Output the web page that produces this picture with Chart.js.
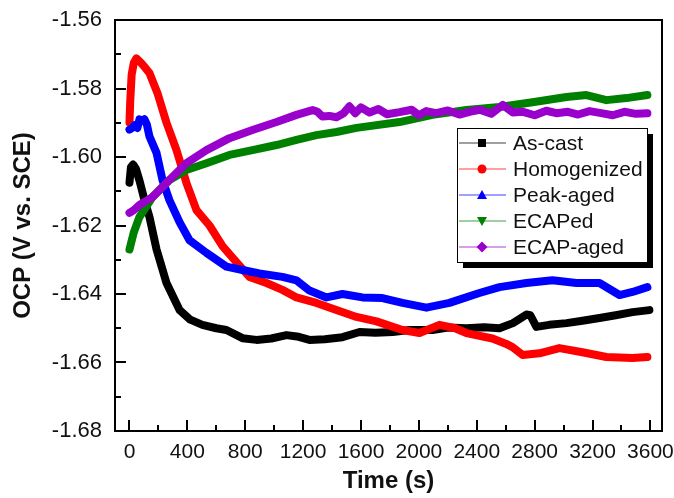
<!DOCTYPE html>
<html>
<head>
<meta charset="utf-8">
<script src="https://cdn.jsdelivr.net/npm/chart.js@4/dist/chart.umd.min.js"></script>
<style>
  body { margin: 0; background: #fff; }
  #wrap { width: 674px; height: 498px; }
</style>
</head>
<body>
<div id="wrap"><canvas id="ocpChart" width="674" height="498"></canvas></div>
<script>
// Valores (tiempo en s, OCP en V vs. SCE)
const seriesNames = ["As-cast", "Homogenized", "Peak-aged", "ECAPed", "ECAP-aged"];
const seriesColors = ["#000000", "#ff0000", "#0000ff", "#008000", "#9900cc"];
const xTicks = [0, 400, 800, 1200, 1600, 2000, 2400, 2800, 3200, 3600];
const yTicks = [-1.68, -1.66, -1.64, -1.62, -1.60, -1.58, -1.56];

const asCastTime = [0, 10, 25, 45, 70, 100, 138, 187, 256, 346, 420, 504, 600, 670, 781, 878, 980, 1085, 1170, 1244, 1350, 1472, 1590, 1700, 1818, 1935, 2094, 2200, 2329, 2450, 2557, 2650, 2743, 2770, 2812, 2900, 3020, 3130, 3248, 3360, 3476, 3593];
const asCastOcp = [-1.6075, -1.603, -1.6022, -1.6035, -1.607, -1.612, -1.6175, -1.627, -1.6368, -1.6447, -1.6475, -1.649, -1.650, -1.6505, -1.6529, -1.6534, -1.653, -1.652, -1.6525, -1.6534, -1.6532, -1.6526, -1.6511, -1.6513, -1.6511, -1.6505, -1.6505, -1.6498, -1.650, -1.6497, -1.650, -1.6485, -1.646, -1.6462, -1.6496, -1.649, -1.6485, -1.6478, -1.647, -1.6462, -1.6453, -1.6447];

const homogTime = [0, 5, 15, 30, 48, 80, 110, 138, 193, 256, 325, 394, 463, 553, 643, 739, 829, 947, 1057, 1154, 1292, 1430, 1569, 1707, 1887, 2004, 2142, 2250, 2329, 2508, 2600, 2647, 2716, 2833, 2971, 3130, 3296, 3476, 3579];
const homogOcp = [-1.590, -1.584, -1.576, -1.5725, -1.5712, -1.5725, -1.574, -1.5755, -1.5813, -1.590, -1.598, -1.6076, -1.6155, -1.620, -1.626, -1.6307, -1.635, -1.6368, -1.6388, -1.641, -1.6426, -1.6447, -1.6467, -1.648, -1.6505, -1.6514, -1.649, -1.650, -1.6514, -1.653, -1.6545, -1.6555, -1.6578, -1.6573, -1.6558, -1.657, -1.6584, -1.6587, -1.6584];

const peakTime = [0, 20, 35, 55, 69, 90, 104, 120, 138, 187, 228, 276, 346, 415, 532, 670, 781, 898, 1057, 1154, 1244, 1361, 1472, 1610, 1748, 1887, 2052, 2211, 2418, 2557, 2743, 2923, 3089, 3248, 3386, 3476, 3579];
const peakOcp = [-1.592, -1.5915, -1.5907, -1.5915, -1.589, -1.5895, -1.589, -1.5905, -1.594, -1.5988, -1.6067, -1.6126, -1.619, -1.6243, -1.628, -1.632, -1.633, -1.634, -1.635, -1.636, -1.639, -1.641, -1.640, -1.641, -1.6412, -1.6426, -1.644, -1.6426, -1.6397, -1.638, -1.6368, -1.636, -1.6368, -1.6368, -1.6403, -1.6394, -1.638];

const ecapTime = [0, 30, 69, 159, 276, 394, 532, 691, 850, 1016, 1154, 1292, 1430, 1569, 1866, 2094, 2329, 2557, 2785, 3020, 3158, 3296, 3434, 3579];
const ecapOcp = [-1.627, -1.622, -1.6175, -1.6117, -1.6067, -1.6038, -1.6018, -1.5994, -1.598, -1.5965, -1.595, -1.5936, -1.5927, -1.5915, -1.5898, -1.5877, -1.5863, -1.5854, -1.584, -1.5825, -1.5819, -1.5834, -1.5828, -1.5819];

const ecapAgedTime = [0, 30, 69, 159, 276, 394, 532, 691, 850, 1016, 1154, 1265, 1300, 1334, 1380, 1430, 1480, 1520, 1560, 1600, 1659, 1720, 1780, 1866, 1950, 2000, 2050, 2120, 2200, 2280, 2350, 2420, 2500, 2580, 2650, 2720, 2800, 2880, 2950, 3030, 3100, 3180, 3260, 3340, 3420, 3500, 3579];
const ecapAgedOcp = [-1.6163, -1.6155, -1.614, -1.6117, -1.6067, -1.6018, -1.598, -1.5945, -1.5921, -1.5898, -1.5877, -1.5863, -1.5868, -1.5882, -1.5880, -1.5884, -1.5872, -1.5852, -1.5872, -1.5855, -1.587, -1.5860, -1.5875, -1.5869, -1.5862, -1.5878, -1.5866, -1.5872, -1.5864, -1.5876, -1.5868, -1.5862, -1.5874, -1.5848, -1.587, -1.5868, -1.5878, -1.5865, -1.5872, -1.5868, -1.5876, -1.5866, -1.5872, -1.5878, -1.5868, -1.5874, -1.5872];

const seriesTimes = [asCastTime, homogTime, peakTime, ecapTime, ecapAgedTime];
const seriesValues = [asCastOcp, homogOcp, peakOcp, ecapOcp, ecapAgedOcp];
const markerStyles = ["square", "circle", "triangle", "triangleDown", "diamond"];

const FONT = "'Liberation Sans', Arial, sans-serif";

// dibuja el símbolo de la leyenda
function drawMarker(ctx, style, x, y, r) {
    ctx.beginPath();
    if (style === "square") {
        ctx.rect(x - r, y - r, 2 * r, 2 * r);
    } else if (style === "circle") {
        ctx.arc(x, y, r + 0.5, 0, Math.PI * 2);
    } else if (style === "triangle") {
        ctx.moveTo(x, y - r - 1);
        ctx.lineTo(x + r + 1, y + r);
        ctx.lineTo(x - r - 1, y + r);
    } else if (style === "triangleDown") {
        ctx.moveTo(x, y + r + 1);
        ctx.lineTo(x + r + 1, y - r);
        ctx.lineTo(x - r - 1, y - r);
    } else {
        ctx.moveTo(x, y - r - 1.5);
        ctx.lineTo(x + r + 1.5, y);
        ctx.lineTo(x, y + r + 1.5);
        ctx.lineTo(x - r - 1.5, y);
    }
    ctx.closePath();
    ctx.fill();
}

// Marco, marcas interiores y leyenda estilo Origin
const originStyle = {
    id: "originStyle",
    afterDraw(chart) {
        const ctx = chart.ctx;
        const a = chart.chartArea;
        const xs = chart.scales.x;
        const ys = chart.scales.y;
        ctx.save();
        ctx.strokeStyle = "#000";
        ctx.lineWidth = 2;
        ctx.strokeRect(a.left, a.top, a.right - a.left, a.bottom - a.top);

        // marcas hacia adentro
        ctx.beginPath();
        for (let i = 0; i < xTicks.length; i++) {
            const px = Math.round(xs.getPixelForValue(xTicks[i]));
            ctx.moveTo(px, a.bottom);
            ctx.lineTo(px, a.bottom - 11);
            if (i < xTicks.length - 1) {
                const pm = Math.round(xs.getPixelForValue((xTicks[i] + xTicks[i + 1]) / 2));
                ctx.moveTo(pm, a.bottom);
                ctx.lineTo(pm, a.bottom - 6);
            }
        }
        for (let i = 0; i < yTicks.length; i++) {
            const py = Math.round(ys.getPixelForValue(yTicks[i]));
            ctx.moveTo(a.left, py);
            ctx.lineTo(a.left + 11, py);
            if (i < yTicks.length - 1) {
                const pm = Math.round(ys.getPixelForValue((yTicks[i] + yTicks[i + 1]) / 2));
                ctx.moveTo(a.left, pm);
                ctx.lineTo(a.left + 6, pm);
            }
        }
        ctx.stroke();

        // leyenda
        const bx = a.right - 205, by = a.top + 108, bw = 190, bh = 134;
        ctx.fillStyle = "#000";
        ctx.fillRect(bx + 6, by + 6, bw, bh);
        ctx.fillStyle = "#fff";
        ctx.fillRect(bx, by, bw, bh);
        ctx.lineWidth = 1;
        ctx.strokeStyle = "#000";
        ctx.strokeRect(bx + 0.5, by + 0.5, bw, bh);
        ctx.font = "21px " + FONT;
        ctx.textBaseline = "middle";
        for (let i = 0; i < seriesNames.length; i++) {
            const ry = by + 15 + i * 26;
            ctx.strokeStyle = seriesColors[i];
            ctx.globalAlpha = 0.75;
            ctx.lineWidth = 1.2;
            ctx.beginPath();
            ctx.moveTo(bx + 2, ry);
            ctx.lineTo(bx + 49, ry);
            ctx.stroke();
            ctx.globalAlpha = 1;
            ctx.fillStyle = seriesColors[i];
            drawMarker(ctx, markerStyles[i], bx + 25, ry, 4);
            ctx.fillStyle = "#111";
            ctx.fillText(seriesNames[i], bx + 56, ry + 1);
        }
        ctx.restore();
    }
};

document.addEventListener("DOMContentLoaded", () => {
    const ctx = document.getElementById("ocpChart").getContext("2d");

    const datasets = seriesNames.map((name, i) => ({
        label: name,
        data: seriesTimes[i].map((t, j) => ({ x: t, y: seriesValues[i][j] })),
        borderColor: seriesColors[i],
        backgroundColor: seriesColors[i],
        borderWidth: 8,
        pointRadius: 0,
        tension: 0,
        borderJoinStyle: "round",
        borderCapStyle: "round",
        order: seriesNames.length - i, // la última serie queda encima
    }));

    new Chart(ctx, {
        type: "line",
        data: { datasets },
        plugins: [originStyle],
        options: {
            responsive: false,
            animation: false,
            layout: { padding: { top: 20, right: 12, left: 0, bottom: 0 } },
            plugins: { legend: { display: false }, tooltip: { enabled: false } },
            scales: {
                x: {
                    type: "linear",
                    min: -100,
                    max: 3680,
                    grid: { display: false, drawTicks: false },
                    border: { display: false },
                    afterBuildTicks: s => { s.ticks = xTicks.map(v => ({ value: v })); },
                    afterFit: s => { s.height = 67; s.paddingLeft = 0; s.paddingRight = 0; },
                    ticks: {
                        padding: 9,
                        maxRotation: 0,
                        autoSkip: false,
                        color: "#111",
                        font: { family: FONT, size: 21 },
                        callback: v => String(v),
                    },
                    title: {
                        display: true,
                        text: "Time (s)",
                        color: "#111",
                        font: { family: FONT, size: 24, weight: "bold" },
                        padding: { top: 0, bottom: 2 },
                    },
                },
                y: {
                    type: "linear",
                    min: -1.68,
                    max: -1.56,
                    grid: { display: false, drawTicks: false },
                    border: { display: false },
                    afterBuildTicks: s => { s.ticks = yTicks.map(v => ({ value: v })); },
                    afterFit: s => { s.width = 115; s.paddingTop = 0; s.paddingBottom = 0; },
                    ticks: {
                        padding: 13,
                        autoSkip: false,
                        color: "#111",
                        font: { family: FONT, size: 22 },
                        callback: v => v.toFixed(2),
                    },
                    title: {
                        display: true,
                        text: "OCP (V vs. SCE)",
                        color: "#111",
                        font: { family: FONT, size: 24, weight: "bold" },
                        padding: { top: 9, bottom: 0 },
                    },
                },
            },
        },
    });
});
</script>
</body>
</html>
